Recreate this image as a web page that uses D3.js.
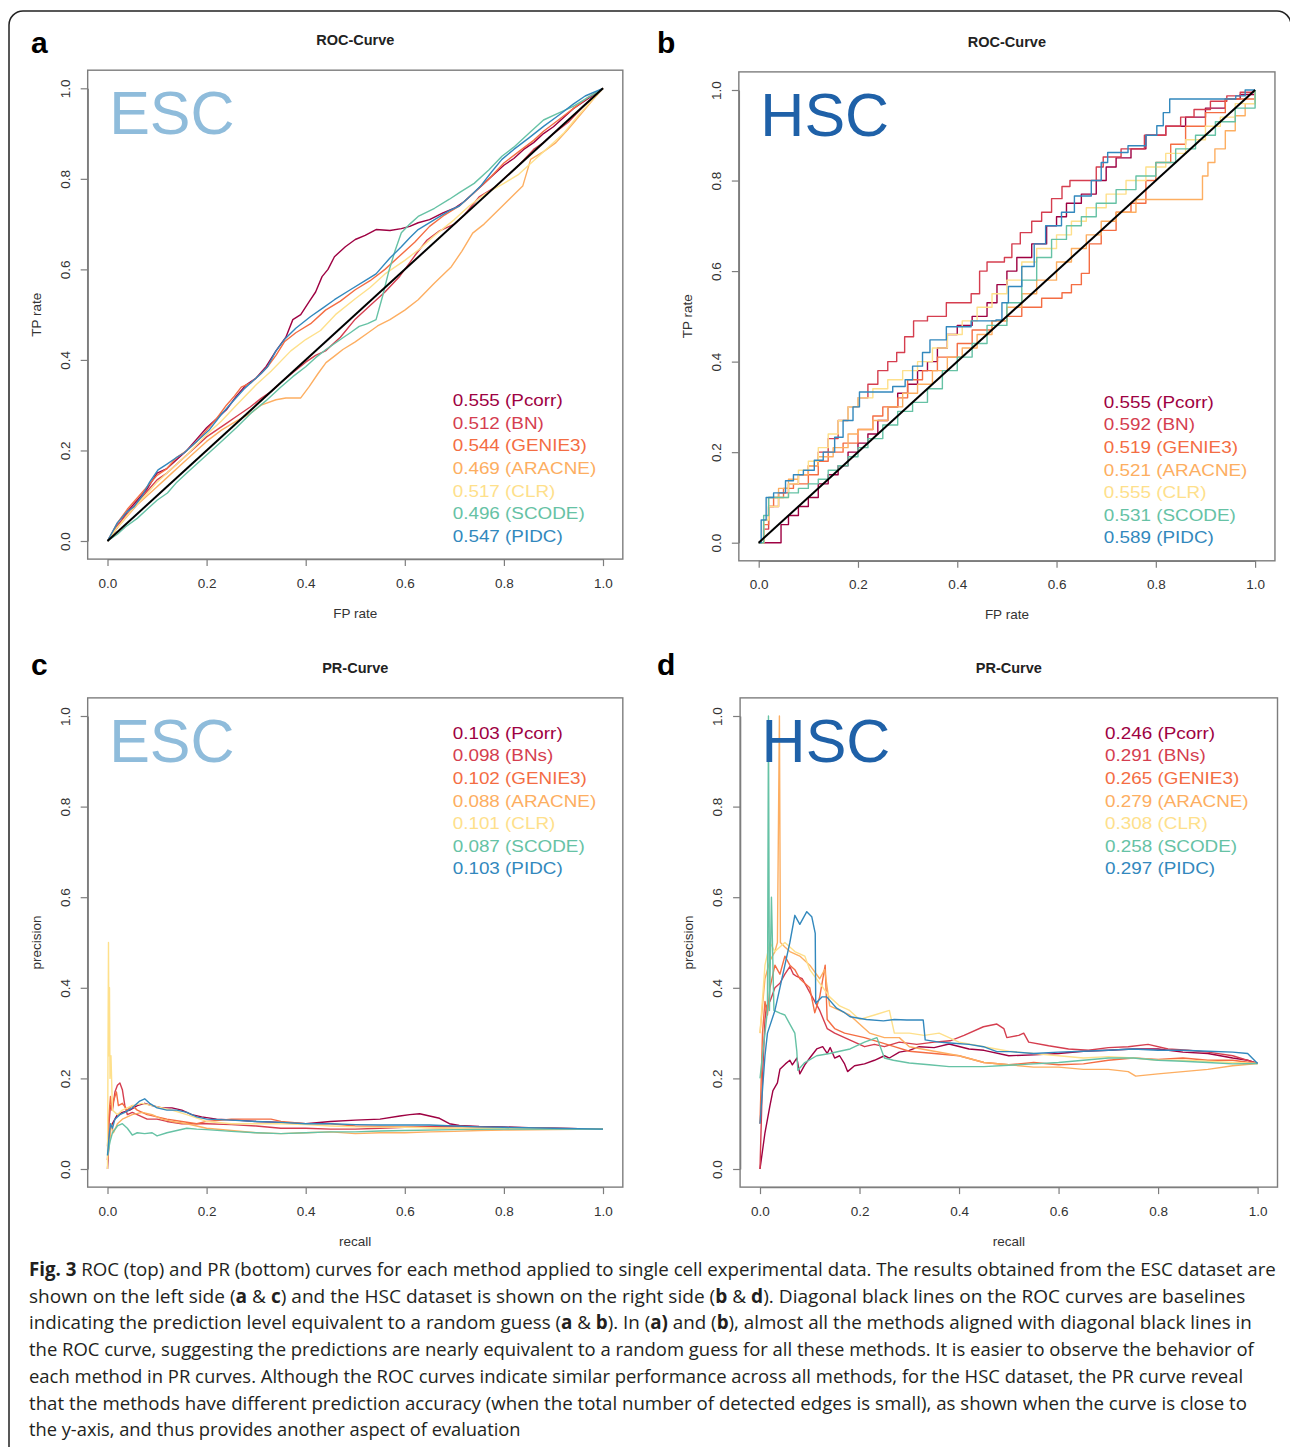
<!DOCTYPE html>
<html lang="en">
<head>
<meta charset="UTF-8">
<title>ROC_PR_ESC_HSC</title>
<style>
    body {
        margin: 0;
        background: #fff;
    }
    svg {
        display: block;
        font-family: "Liberation Sans", Arial, sans-serif;
    }
    .tick text {
        font-size: 13.5px;
        fill: #333;
    }
    .axisTitle {
        font-size: 13.5px;
        fill: #333;
    }
    .panelTitle {
        font-size: 14.5px;
        font-weight: bold;
        fill: #222;
    }
    .panelLetter {
        font-size: 30px;
        font-weight: bold;
        fill: #000;
    }
    .caption {
        font-family: "Open Sans", "Noto Sans", sans-serif;
        font-size: 19px;
        fill: #231f20;
    }
</style>
</head>
<body>
<div id="figure"></div>

<script src="https://d3js.org/d3.v7.min.js"></script>
<script>
    // Methods and legend values
    const methods = ["Pcorr", "BN", "GENIE3", "ARACNE", "CLR", "SCODE", "PIDC"];
    const prMethods = ["Pcorr", "BNs", "GENIE3", "ARACNE", "CLR", "SCODE", "PIDC"];
    const rocEscAuc = [0.555, 0.512, 0.544, 0.469, 0.517, 0.496, 0.547];
    const rocHscAuc = [0.555, 0.592, 0.519, 0.521, 0.555, 0.531, 0.589];
    const prEscAuc = [0.103, 0.098, 0.102, 0.088, 0.101, 0.087, 0.103];
    const prHscAuc = [0.246, 0.291, 0.265, 0.279, 0.308, 0.258, 0.297];
    const axisTicks = [0, 0.2, 0.4, 0.6, 0.8, 1.0];
    const baseline = [[0, 0], [1, 1]];

    // ROC curves, ESC dataset (FP rate, TP rate)
    const rocEscPcorr = [[0,0],[0.02,0.03],[0.04,0.065],[0.06,0.09],[0.08,0.115],[0.1,0.15],[0.12,0.16],[0.14,0.18],[0.16,0.2],[0.18,0.225],[0.2,0.25],[0.22,0.27],[0.24,0.29],[0.26,0.32],[0.28,0.345],[0.3,0.36],[0.32,0.385],[0.34,0.42],[0.36,0.45],[0.374,0.489],[0.39,0.5],[0.407,0.529],[0.42,0.55],[0.433,0.584],[0.445,0.6],[0.458,0.628],[0.48,0.65],[0.5,0.666],[0.52,0.675],[0.542,0.688],[0.57,0.686],[0.593,0.69],[0.61,0.695],[0.627,0.703],[0.65,0.71],[0.677,0.725],[0.7,0.735],[0.72,0.75],[0.74,0.77],[0.76,0.79],[0.78,0.81],[0.8,0.83],[0.82,0.845],[0.84,0.865],[0.86,0.88],[0.88,0.9],[0.9,0.915],[0.92,0.935],[0.94,0.955],[0.96,0.97],[0.98,0.985],[1,1]];
    const rocEscBN = [[0,0],[0.02,0.035],[0.04,0.06],[0.06,0.085],[0.08,0.11],[0.1,0.135],[0.12,0.15],[0.14,0.17],[0.16,0.19],[0.18,0.21],[0.2,0.23],[0.22,0.245],[0.24,0.26],[0.26,0.275],[0.288,0.296],[0.31,0.315],[0.33,0.33],[0.35,0.35],[0.372,0.37],[0.4,0.395],[0.42,0.41],[0.44,0.42],[0.47,0.45],[0.5,0.49],[0.53,0.52],[0.56,0.55],[0.59,0.585],[0.62,0.63],[0.645,0.665],[0.67,0.685],[0.7,0.7],[0.72,0.72],[0.75,0.76],[0.78,0.78],[0.8,0.8],[0.83,0.83],[0.86,0.865],[0.88,0.88],[0.9,0.9],[0.93,0.925],[0.96,0.96],[0.98,0.98],[1,1]];
    const rocEscGenie3 = [[0,0],[0.02,0.04],[0.04,0.07],[0.06,0.095],[0.08,0.12],[0.1,0.145],[0.12,0.16],[0.14,0.185],[0.16,0.2],[0.18,0.22],[0.2,0.245],[0.22,0.27],[0.24,0.3],[0.256,0.32],[0.27,0.34],[0.29,0.35],[0.31,0.37],[0.323,0.385],[0.34,0.41],[0.357,0.44],[0.38,0.46],[0.41,0.48],[0.44,0.51],[0.47,0.53],[0.5,0.555],[0.53,0.575],[0.56,0.6],[0.59,0.63],[0.62,0.66],[0.65,0.695],[0.68,0.72],[0.71,0.74],[0.74,0.77],[0.77,0.8],[0.8,0.835],[0.83,0.86],[0.86,0.885],[0.88,0.905],[0.91,0.93],[0.94,0.955],[0.97,0.98],[1,1]];
    const rocEscAracne = [[0,0],[0.02,0.03],[0.04,0.055],[0.06,0.08],[0.08,0.1],[0.1,0.12],[0.12,0.14],[0.15,0.17],[0.18,0.2],[0.2,0.22],[0.23,0.245],[0.26,0.265],[0.29,0.283],[0.31,0.3],[0.34,0.312],[0.36,0.316],[0.39,0.316],[0.407,0.341],[0.425,0.37],[0.441,0.394],[0.46,0.41],[0.475,0.423],[0.5,0.44],[0.526,0.46],[0.545,0.475],[0.57,0.489],[0.6,0.51],[0.627,0.533],[0.66,0.57],[0.694,0.606],[0.715,0.64],[0.737,0.68],[0.76,0.7],[0.796,0.739],[0.82,0.765],[0.838,0.784],[0.854,0.843],[0.88,0.86],[0.905,0.88],[0.93,0.91],[0.964,0.954],[0.98,0.975],[1,1]];
    const rocEscClr = [[0,0],[0.02,0.03],[0.05,0.07],[0.08,0.105],[0.1,0.13],[0.13,0.16],[0.16,0.19],[0.2,0.235],[0.23,0.265],[0.26,0.3],[0.3,0.345],[0.33,0.375],[0.37,0.42],[0.4,0.445],[0.43,0.465],[0.46,0.5],[0.5,0.535],[0.53,0.56],[0.56,0.59],[0.6,0.62],[0.63,0.645],[0.66,0.675],[0.7,0.71],[0.73,0.74],[0.76,0.765],[0.8,0.79],[0.83,0.81],[0.86,0.84],[0.89,0.87],[0.92,0.9],[0.95,0.94],[0.975,0.97],[1,1]];
    const rocEscScode = [[0,0],[0.02,0.015],[0.036,0.031],[0.06,0.05],[0.08,0.07],[0.1,0.09],[0.121,0.106],[0.14,0.13],[0.16,0.15],[0.18,0.17],[0.205,0.195],[0.23,0.22],[0.26,0.25],[0.29,0.283],[0.32,0.31],[0.35,0.34],[0.374,0.363],[0.4,0.385],[0.42,0.405],[0.441,0.423],[0.47,0.445],[0.49,0.46],[0.508,0.474],[0.525,0.48],[0.542,0.489],[0.555,0.54],[0.567,0.593],[0.58,0.64],[0.593,0.681],[0.61,0.7],[0.627,0.717],[0.66,0.735],[0.69,0.755],[0.711,0.77],[0.74,0.79],[0.77,0.82],[0.796,0.85],[0.82,0.87],[0.85,0.9],[0.88,0.93],[0.91,0.945],[0.94,0.96],[0.97,0.98],[1,1]];
    const rocEscPidc = [[0,0],[0.02,0.04],[0.04,0.065],[0.053,0.075],[0.07,0.1],[0.085,0.13],[0.102,0.157],[0.12,0.17],[0.14,0.185],[0.155,0.195],[0.18,0.22],[0.205,0.245],[0.23,0.28],[0.256,0.312],[0.275,0.335],[0.29,0.35],[0.31,0.37],[0.323,0.385],[0.34,0.42],[0.357,0.445],[0.38,0.47],[0.41,0.496],[0.435,0.515],[0.458,0.533],[0.49,0.555],[0.52,0.575],[0.542,0.59],[0.57,0.625],[0.593,0.65],[0.61,0.67],[0.627,0.688],[0.66,0.71],[0.69,0.73],[0.71,0.74],[0.735,0.765],[0.753,0.784],[0.775,0.815],[0.796,0.843],[0.82,0.865],[0.85,0.89],[0.88,0.916],[0.91,0.94],[0.94,0.965],[0.964,0.983],[1,1]];

    // ROC curves, HSC dataset (FP rate, TP rate), stepwise
    const rocHscPcorr = [[0,0],[0.04,0],[0.045,0.04],[0.06,0.06],[0.08,0.08],[0.1,0.1],[0.12,0.13],[0.14,0.15],[0.16,0.17],[0.18,0.2],[0.2,0.22],[0.22,0.24],[0.24,0.27],[0.26,0.3],[0.28,0.33],[0.3,0.35],[0.32,0.38],[0.34,0.4],[0.36,0.43],[0.38,0.46],[0.4,0.48],[0.43,0.5],[0.46,0.53],[0.48,0.57],[0.5,0.6],[0.52,0.63],[0.55,0.66],[0.58,0.7],[0.6,0.72],[0.62,0.75],[0.65,0.77],[0.68,0.8],[0.7,0.83],[0.72,0.85],[0.75,0.87],[0.78,0.9],[0.82,0.92],[0.86,0.94],[0.9,0.96],[0.94,0.98],[0.97,0.99],[1,1]];
    const rocHscBN = [[0,0],[0.01,0.03],[0.02,0.08],[0.04,0.11],[0.06,0.13],[0.08,0.15],[0.1,0.17],[0.12,0.2],[0.14,0.23],[0.16,0.27],[0.18,0.3],[0.2,0.32],[0.22,0.35],[0.24,0.38],[0.26,0.4],[0.278,0.42],[0.294,0.455],[0.312,0.49],[0.34,0.5],[0.378,0.53],[0.428,0.55],[0.445,0.6],[0.46,0.62],[0.495,0.63],[0.51,0.66],[0.527,0.685],[0.55,0.71],[0.57,0.73],[0.59,0.76],[0.611,0.787],[0.627,0.8],[0.661,0.8],[0.68,0.83],[0.694,0.852],[0.73,0.87],[0.777,0.9],[0.82,0.92],[0.85,0.94],[0.877,0.957],[0.91,0.975],[0.943,0.987],[0.97,0.995],[1,1]];
    const rocHscGenie3 = [[0,0],[0.01,0.04],[0.02,0.08],[0.03,0.1],[0.05,0.12],[0.07,0.13],[0.1,0.15],[0.12,0.18],[0.14,0.2],[0.17,0.22],[0.2,0.25],[0.23,0.28],[0.25,0.3],[0.28,0.32],[0.3,0.36],[0.33,0.38],[0.36,0.41],[0.4,0.44],[0.43,0.47],[0.47,0.49],[0.5,0.5],[0.53,0.52],[0.57,0.54],[0.611,0.552],[0.63,0.57],[0.65,0.595],[0.666,0.66],[0.69,0.69],[0.72,0.73],[0.75,0.75],[0.78,0.8],[0.8,0.84],[0.83,0.88],[0.86,0.92],[0.9,0.95],[0.94,0.98],[1,1]];
    const rocHscAracne = [[0,0],[0.01,0.05],[0.02,0.1],[0.04,0.12],[0.06,0.14],[0.08,0.15],[0.1,0.17],[0.12,0.19],[0.15,0.21],[0.18,0.24],[0.2,0.25],[0.23,0.27],[0.26,0.3],[0.29,0.33],[0.32,0.35],[0.35,0.38],[0.38,0.41],[0.41,0.43],[0.44,0.46],[0.47,0.49],[0.5,0.52],[0.53,0.55],[0.56,0.58],[0.6,0.62],[0.63,0.65],[0.66,0.68],[0.69,0.71],[0.72,0.73],[0.76,0.758],[0.894,0.81],[0.905,0.84],[0.919,0.87],[0.94,0.91],[0.96,0.943],[0.98,0.97],[1,1]];
    const rocHscClr = [[0,0],[0.01,0.05],[0.02,0.08],[0.04,0.1],[0.06,0.13],[0.08,0.16],[0.1,0.18],[0.12,0.21],[0.14,0.24],[0.16,0.27],[0.18,0.3],[0.2,0.32],[0.23,0.34],[0.26,0.36],[0.29,0.38],[0.32,0.4],[0.35,0.43],[0.38,0.46],[0.41,0.49],[0.44,0.52],[0.47,0.55],[0.5,0.58],[0.53,0.62],[0.56,0.65],[0.6,0.68],[0.63,0.71],[0.66,0.74],[0.7,0.77],[0.74,0.8],[0.78,0.83],[0.82,0.86],[0.86,0.89],[0.9,0.92],[0.93,0.94],[0.96,0.97],[1,1]];
    const rocHscScode = [[0,0],[0.01,0.06],[0.02,0.1],[0.04,0.1],[0.06,0.11],[0.08,0.12],[0.1,0.13],[0.12,0.14],[0.14,0.16],[0.16,0.17],[0.18,0.19],[0.2,0.21],[0.22,0.23],[0.25,0.26],[0.28,0.29],[0.31,0.31],[0.34,0.34],[0.37,0.38],[0.4,0.41],[0.43,0.44],[0.46,0.48],[0.5,0.53],[0.53,0.58],[0.56,0.63],[0.59,0.67],[0.62,0.7],[0.65,0.72],[0.68,0.75],[0.72,0.78],[0.76,0.81],[0.8,0.84],[0.84,0.87],[0.88,0.9],[0.92,0.93],[0.96,0.96],[1,1]];
    const rocHscPidc = [[0,0],[0.005,0.05],[0.015,0.1],[0.03,0.11],[0.054,0.137],[0.07,0.15],[0.09,0.16],[0.112,0.182],[0.13,0.2],[0.153,0.233],[0.17,0.27],[0.19,0.3],[0.203,0.333],[0.245,0.333],[0.27,0.345],[0.295,0.36],[0.31,0.39],[0.33,0.42],[0.345,0.448],[0.378,0.477],[0.428,0.49],[0.478,0.492],[0.49,0.53],[0.503,0.566],[0.53,0.61],[0.555,0.66],[0.578,0.7],[0.61,0.73],[0.636,0.766],[0.67,0.8],[0.69,0.84],[0.703,0.862],[0.744,0.877],[0.78,0.9],[0.802,0.921],[0.815,0.95],[0.828,0.98],[0.961,0.987],[0.98,1],[1,1]];

    // PR curves, ESC dataset (recall, precision)
    const prEscPcorr = [[0,0],[0.003,0.06],[0.006,0.09],[0.01,0.1],[0.015,0.11],[0.02,0.12],[0.03,0.125],[0.045,0.13],[0.06,0.14],[0.075,0.145],[0.09,0.14],[0.11,0.135],[0.13,0.135],[0.15,0.13],[0.17,0.12],[0.19,0.115],[0.22,0.11],[0.26,0.108],[0.3,0.105],[0.35,0.103],[0.4,0.1],[0.45,0.105],[0.5,0.108],[0.55,0.11],[0.59,0.117],[0.61,0.12],[0.63,0.122],[0.65,0.117],[0.67,0.112],[0.69,0.1],[0.71,0.096],[0.75,0.094],[0.8,0.093],[0.85,0.091],[0.9,0.09],[0.95,0.089],[1,0.088]];
    const prEscBN = [[0,0.02],[0.003,0.1],[0.006,0.14],[0.01,0.13],[0.015,0.17],[0.02,0.185],[0.025,0.19],[0.03,0.175],[0.035,0.14],[0.04,0.12],[0.05,0.125],[0.06,0.12],[0.08,0.11],[0.1,0.11],[0.12,0.105],[0.15,0.1],[0.2,0.1],[0.25,0.098],[0.3,0.095],[0.35,0.09],[0.4,0.09],[0.45,0.088],[0.5,0.088],[0.55,0.09],[0.6,0.092],[0.65,0.094],[0.7,0.095],[0.75,0.093],[0.8,0.091],[0.9,0.09],[1,0.088]];
    const prEscGenie3 = [[0,0.05],[0.003,0.12],[0.006,0.16],[0.009,0.13],[0.012,0.15],[0.018,0.17],[0.022,0.14],[0.03,0.145],[0.04,0.13],[0.05,0.14],[0.06,0.13],[0.08,0.12],[0.1,0.115],[0.12,0.11],[0.15,0.105],[0.18,0.1],[0.2,0.105],[0.25,0.11],[0.3,0.11],[0.33,0.11],[0.35,0.105],[0.4,0.1],[0.45,0.1],[0.5,0.095],[0.55,0.094],[0.6,0.093],[0.7,0.09],[0.8,0.09],[0.9,0.089],[1,0.088]];
    const prEscAracne = [[0,0.02],[0.004,0.06],[0.008,0.1],[0.012,0.08],[0.02,0.1],[0.03,0.11],[0.05,0.12],[0.07,0.125],[0.09,0.12],[0.11,0.11],[0.13,0.105],[0.16,0.1],[0.2,0.09],[0.25,0.085],[0.3,0.08],[0.35,0.078],[0.4,0.08],[0.45,0.082],[0.5,0.078],[0.55,0.08],[0.6,0.08],[0.65,0.082],[0.7,0.083],[0.75,0.085],[0.8,0.086],[0.9,0.087],[1,0.088]];
    const prEscClr = [[0,0],[0.002,0.5],[0.003,0.25],[0.004,0.4],[0.005,0.2],[0.007,0.25],[0.01,0.13],[0.02,0.12],[0.03,0.13],[0.05,0.14],[0.07,0.145],[0.09,0.14],[0.11,0.135],[0.13,0.13],[0.16,0.12],[0.2,0.105],[0.25,0.1],[0.3,0.1],[0.35,0.1],[0.4,0.098],[0.45,0.095],[0.5,0.093],[0.6,0.092],[0.7,0.09],[0.8,0.09],[1,0.088]];
    const prEscScode = [[0,0.03],[0.005,0.06],[0.01,0.08],[0.02,0.095],[0.03,0.1],[0.04,0.09],[0.05,0.075],[0.06,0.08],[0.075,0.078],[0.09,0.08],[0.1,0.073],[0.12,0.08],[0.14,0.085],[0.16,0.09],[0.18,0.088],[0.2,0.087],[0.25,0.083],[0.3,0.08],[0.35,0.078],[0.4,0.08],[0.45,0.082],[0.5,0.082],[0.55,0.084],[0.6,0.085],[0.7,0.087],[0.8,0.088],[0.9,0.088],[1,0.088]];
    const prEscPidc = [[0,0.03],[0.003,0.07],[0.006,0.1],[0.01,0.09],[0.015,0.11],[0.025,0.12],[0.035,0.125],[0.05,0.135],[0.065,0.15],[0.075,0.155],[0.085,0.145],[0.1,0.135],[0.12,0.13],[0.14,0.13],[0.16,0.125],[0.18,0.115],[0.2,0.11],[0.25,0.108],[0.3,0.105],[0.35,0.103],[0.4,0.1],[0.45,0.1],[0.5,0.098],[0.55,0.097],[0.6,0.097],[0.65,0.097],[0.7,0.095],[0.75,0.093],[0.8,0.092],[0.9,0.09],[1,0.088]];

    // PR curves, HSC dataset (recall, precision)
    const prHscPcorr = [[0,0],[0.01,0.08],[0.02,0.14],[0.026,0.173],[0.035,0.19],[0.04,0.22],[0.051,0.232],[0.06,0.24],[0.065,0.23],[0.074,0.245],[0.08,0.21],[0.09,0.23],[0.1,0.245],[0.114,0.265],[0.126,0.27],[0.135,0.255],[0.141,0.268],[0.15,0.245],[0.16,0.25],[0.17,0.232],[0.176,0.215],[0.19,0.228],[0.21,0.232],[0.23,0.24],[0.25,0.25],[0.26,0.245],[0.28,0.258],[0.3,0.262],[0.32,0.27],[0.35,0.268],[0.38,0.276],[0.42,0.265],[0.45,0.262],[0.5,0.25],[0.55,0.252],[0.6,0.255],[0.65,0.26],[0.7,0.262],[0.75,0.265],[0.8,0.265],[0.85,0.258],[0.9,0.255],[0.95,0.245],[0.98,0.24],[1,0.233]];
    const prHscBN = [[0,0],[0.005,0.2],[0.01,0.33],[0.013,0.36],[0.02,0.37],[0.03,0.4],[0.04,0.41],[0.05,0.43],[0.06,0.447],[0.067,0.43],[0.074,0.425],[0.085,0.42],[0.1,0.39],[0.11,0.37],[0.12,0.35],[0.135,0.31],[0.15,0.3],[0.17,0.29],[0.19,0.28],[0.21,0.27],[0.23,0.275],[0.25,0.27],[0.28,0.28],[0.315,0.275],[0.35,0.28],[0.382,0.283],[0.41,0.295],[0.449,0.314],[0.476,0.32],[0.49,0.31],[0.496,0.29],[0.52,0.295],[0.53,0.3],[0.54,0.28],[0.58,0.272],[0.62,0.265],[0.66,0.262],[0.7,0.268],[0.74,0.27],[0.78,0.275],[0.82,0.265],[0.86,0.262],[0.9,0.258],[0.95,0.25],[1,0.233]];
    const prHscGenie3 = [[0,0.1],[0.005,0.3],[0.01,0.37],[0.015,0.34],[0.02,0.4],[0.03,0.45],[0.04,0.43],[0.05,0.47],[0.06,0.45],[0.07,0.44],[0.08,0.42],[0.1,0.4],[0.11,0.345],[0.12,0.38],[0.131,0.45],[0.135,0.33],[0.15,0.31],[0.17,0.3],[0.19,0.295],[0.21,0.29],[0.24,0.28],[0.27,0.27],[0.3,0.26],[0.35,0.255],[0.4,0.25],[0.45,0.235],[0.5,0.23],[0.55,0.235],[0.6,0.23],[0.65,0.232],[0.7,0.24],[0.75,0.245],[0.8,0.242],[0.85,0.245],[0.9,0.24],[0.95,0.24],[1,0.233]];
    const prHscAracne = [[0,0.3],[0.01,0.42],[0.02,0.46],[0.03,0.48],[0.035,0.5],[0.039,1.0],[0.041,0.5],[0.05,0.49],[0.06,0.48],[0.08,0.47],[0.1,0.45],[0.12,0.42],[0.13,0.44],[0.14,0.36],[0.16,0.35],[0.18,0.34],[0.2,0.32],[0.22,0.3],[0.25,0.29],[0.28,0.29],[0.3,0.27],[0.35,0.26],[0.4,0.25],[0.45,0.235],[0.5,0.23],[0.55,0.225],[0.6,0.225],[0.65,0.22],[0.7,0.22],[0.74,0.215],[0.755,0.205],[0.8,0.21],[0.85,0.215],[0.9,0.22],[0.95,0.228],[1,0.233]];
    const prHscClr = [[0,0.3],[0.01,0.45],[0.02,0.5],[0.03,0.48],[0.05,0.5],[0.07,0.48],[0.09,0.47],[0.1,0.44],[0.12,0.41],[0.14,0.38],[0.16,0.36],[0.18,0.35],[0.2,0.33],[0.23,0.34],[0.26,0.35],[0.27,0.3],[0.3,0.3],[0.33,0.295],[0.36,0.3],[0.4,0.28],[0.45,0.27],[0.5,0.26],[0.55,0.255],[0.6,0.25],[0.65,0.245],[0.7,0.248],[0.75,0.245],[0.8,0.24],[0.85,0.24],[0.9,0.238],[0.95,0.235],[1,0.233]];
    const prHscScode = [[0,0.2],[0.01,0.3],[0.015,0.35],[0.017,1.0],[0.019,0.35],[0.023,0.6],[0.028,0.35],[0.04,0.344],[0.05,0.34],[0.06,0.32],[0.07,0.3],[0.074,0.26],[0.076,0.218],[0.09,0.235],[0.114,0.25],[0.14,0.255],[0.16,0.26],[0.181,0.265],[0.21,0.28],[0.235,0.29],[0.25,0.245],[0.268,0.24],[0.3,0.234],[0.34,0.23],[0.38,0.226],[0.45,0.226],[0.5,0.229],[0.55,0.232],[0.6,0.235],[0.65,0.24],[0.7,0.245],[0.75,0.245],[0.8,0.24],[0.85,0.238],[0.9,0.235],[0.95,0.232],[1,0.233]];
    const prHscPidc = [[0,0.1],[0.01,0.25],[0.015,0.3],[0.03,0.35],[0.04,0.4],[0.05,0.45],[0.06,0.5],[0.07,0.56],[0.08,0.54],[0.094,0.568],[0.104,0.557],[0.111,0.52],[0.112,0.366],[0.125,0.38],[0.134,0.38],[0.154,0.355],[0.17,0.345],[0.181,0.336],[0.214,0.33],[0.248,0.327],[0.27,0.33],[0.295,0.329],[0.328,0.329],[0.332,0.285],[0.36,0.28],[0.382,0.278],[0.42,0.275],[0.449,0.27],[0.476,0.259],[0.503,0.259],[0.55,0.255],[0.6,0.258],[0.65,0.26],[0.7,0.262],[0.75,0.265],[0.8,0.262],[0.85,0.262],[0.9,0.26],[0.95,0.258],[0.98,0.255],[1,0.233]];

    // Colours (RColorBrewer Spectral)
    const methodColors = ["#9e0142", "#d53e4f", "#f46d43", "#fdae61", "#fee08b", "#66c2a5", "#3288bd"];
    const datasetColors = { ESC: "#8fbcdb", HSC: "#1f61a8" };

    // Layout of the four panels (pixel positions of 0 and 1 on each axis)
    const panels = [
        { letter: "a", lx: 31, ly: 53, title: "ROC-Curve", dataset: "ESC", xLab: "FP rate", yLab: "TP rate",
          x0: 107.5, x1: 603, y0: 541, y1: 88.3, legendTop: 336, diag: true, step: false,
          curves: [rocEscPcorr, rocEscBN, rocEscGenie3, rocEscAracne, rocEscClr, rocEscScode, rocEscPidc],
          auc: rocEscAuc, names: methods },
        { letter: "b", lx: 657, ly: 53, title: "ROC-Curve", dataset: "HSC", xLab: "FP rate", yLab: "TP rate",
          x0: 758.7, x1: 1255.1, y0: 542.7, y1: 90, legendTop: 336, diag: true, step: true,
          curves: [rocHscPcorr, rocHscBN, rocHscGenie3, rocHscAracne, rocHscClr, rocHscScode, rocHscPidc],
          auc: rocHscAuc, names: methods },
        { letter: "c", lx: 31, ly: 675, title: "PR-Curve", dataset: "ESC", xLab: "recall", yLab: "precision",
          x0: 107.5, x1: 603, y0: 1169, y1: 716, legendTop: 41, diag: false, step: false,
          curves: [prEscPcorr, prEscBN, prEscGenie3, prEscAracne, prEscClr, prEscScode, prEscPidc],
          auc: prEscAuc, names: prMethods },
        { letter: "d", lx: 657, ly: 675, title: "PR-Curve", dataset: "HSC", xLab: "recall", yLab: "precision",
          x0: 760, x1: 1257.6, y0: 1169, y1: 716, legendTop: 41, diag: false, step: false,
          curves: [prHscPcorr, prHscBN, prHscGenie3, prHscAracne, prHscClr, prHscScode, prHscPidc],
          auc: prHscAuc, names: prMethods }
    ];

    // Caption text, line by line (bold parts flagged)
    const captionLines = [
        [["Fig. 3", true], [" ROC (top) and PR (bottom) curves for each method applied to single cell experimental data. The results obtained from the ESC dataset are", false]],
        [["shown on the left side (", false], ["a", true], [" & ", false], ["c", true], [") and the HSC dataset is shown on the right side (", false], ["b", true], [" & ", false], ["d", true], ["). Diagonal black lines on the ROC curves are baselines", false]],
        [["indicating the prediction level equivalent to a random guess (", false], ["a", true], [" & ", false], ["b", true], ["). In (", false], ["a)", true], [" and (", false], ["b", true], ["), almost all the methods aligned with diagonal black lines in", false]],
        [["the ROC curve, suggesting the predictions are nearly equivalent to a random guess for all these methods. It is easier to observe the behavior of", false]],
        [["each method in PR curves. Although the ROC curves indicate similar performance across all methods, for the HSC dataset, the PR curve reveal", false]],
        [["that the methods have different prediction accuracy (when the total number of detected edges is small), as shown when the curve is close to", false]],
        [["the y-axis, and thus provides another aspect of evaluation", false]]
    ];
    const captionWidths = [1248, 1217, 1224, 1226, 1215, 1219, 492];

    const width = 1290, height = 1447;
    const svg = d3.select("#figure").append("svg")
        .attr("width", width)
        .attr("height", height);

    svg.append("rect").attr("width", width).attr("height", height).attr("fill", "#fff");

    // Rounded frame round the whole figure
    svg.append("rect")
        .attr("x", 9).attr("y", 11)
        .attr("width", 1282).attr("height", 1460)
        .attr("rx", 14).attr("ry", 14)
        .attr("fill", "none")
        .attr("stroke", "#222")
        .attr("stroke-width", 1.5);

    const boxColor = "#7d7d7d";

    panels.forEach(function(p) {
        const x = d3.scaleLinear().domain([0, 1]).range([p.x0, p.x1]);
        const y = d3.scaleLinear().domain([0, 1]).range([p.y0, p.y1]);
        const left = x(-0.04), right = x(1.04), top = y(1.04), bottom = y(-0.04);
        const g = svg.append("g").attr("class", "panel");

        // Panel letter and title
        g.append("text").attr("class", "panelLetter")
            .attr("x", p.lx).attr("y", p.ly).text(p.letter);
        g.append("text").attr("class", "panelTitle")
            .attr("x", (left + right) / 2).attr("y", top - 25)
            .attr("text-anchor", "middle").text(p.title);

        // Curves
        const line = d3.line()
            .x(d => x(d[0]))
            .y(d => y(d[1]))
            .curve(p.step ? d3.curveStepAfter : d3.curveLinear);

        g.append("g").selectAll("path")
            .data(p.curves)
            .enter().append("path")
            .attr("d", line)
            .attr("fill", "none")
            .attr("stroke", (d, i) => methodColors[i])
            .attr("stroke-width", 1.4)
            .attr("stroke-linejoin", "round");

        if (p.diag) {
            g.append("path")
                .attr("d", d3.line().x(d => x(d[0])).y(d => y(d[1]))(baseline))
                .attr("stroke", "#000")
                .attr("stroke-width", 2);
        }

        // Dataset label
        g.append("text")
            .attr("x", left + 21.5).attr("y", top + 64)
            .style("font-size", "61px")
            .style("fill", datasetColors[p.dataset])
            .text(p.dataset);

        // Legend
        g.append("g").selectAll("text")
            .data(p.names)
            .enter().append("text")
            .attr("transform", (d, i) => `translate(${left + 365},${top + p.legendTop + i * 22.6}) scale(1.11,1)`)
            .style("font-size", "17px")
            .style("fill", (d, i) => methodColors[i])
            .text((d, i) => `${d3.format(".3f")(p.auc[i])} (${d})`);

        // Plot box
        g.append("rect")
            .attr("x", left).attr("y", top)
            .attr("width", right - left).attr("height", bottom - top)
            .attr("fill", "none")
            .attr("stroke", boxColor)
            .attr("stroke-width", 1.4);

        // Axes
        const xAxis = g.append("g")
            .attr("transform", `translate(0,${bottom})`)
            .call(d3.axisBottom(x).tickValues(axisTicks).tickFormat(d3.format(".1f"))
                .tickSize(7).tickSizeOuter(0).tickPadding(12));
        const yAxis = g.append("g")
            .attr("transform", `translate(${left},0)`)
            .call(d3.axisLeft(y).tickValues(axisTicks).tickFormat(d3.format(".1f"))
                .tickSize(7).tickSizeOuter(0));

        [xAxis, yAxis].forEach(function(a) {
            a.attr("font-family", null).attr("font-size", null);
            a.select(".domain").attr("stroke", boxColor).attr("stroke-width", 1.4);
            a.selectAll(".tick line").attr("stroke", boxColor).attr("stroke-width", 1.2);
        });
        yAxis.selectAll(".tick text")
            .attr("transform", "rotate(-90)")
            .attr("x", 0).attr("y", -18).attr("dy", null)
            .attr("text-anchor", "middle");

        // Axis titles
        g.append("text").attr("class", "axisTitle")
            .attr("x", (left + right) / 2).attr("y", bottom + 58.5)
            .attr("text-anchor", "middle").text(p.xLab);
        g.append("text").attr("class", "axisTitle")
            .attr("transform", `translate(${left - 47},${(top + bottom) / 2}) rotate(-90)`)
            .attr("text-anchor", "middle").text(p.yLab);
    });

    // Caption: each line is squeezed horizontally to the width it has in the figure
    const caption = svg.append("g").attr("class", "caption");
    captionLines.forEach(function(parts, i) {
        const t = caption.append("text").attr("x", 0).attr("y", 0);
        parts.forEach(function(part) {
            t.append("tspan")
                .style("font-weight", part[1] ? "bold" : "normal")
                .text(part[0]);
        });
        const natural = t.node().getComputedTextLength();
        const k = captionWidths[i] / natural;
        t.attr("transform", `translate(29,${1276 + i * 26.7}) scale(${k},1)`);
    });
</script>
</body>
</html>
